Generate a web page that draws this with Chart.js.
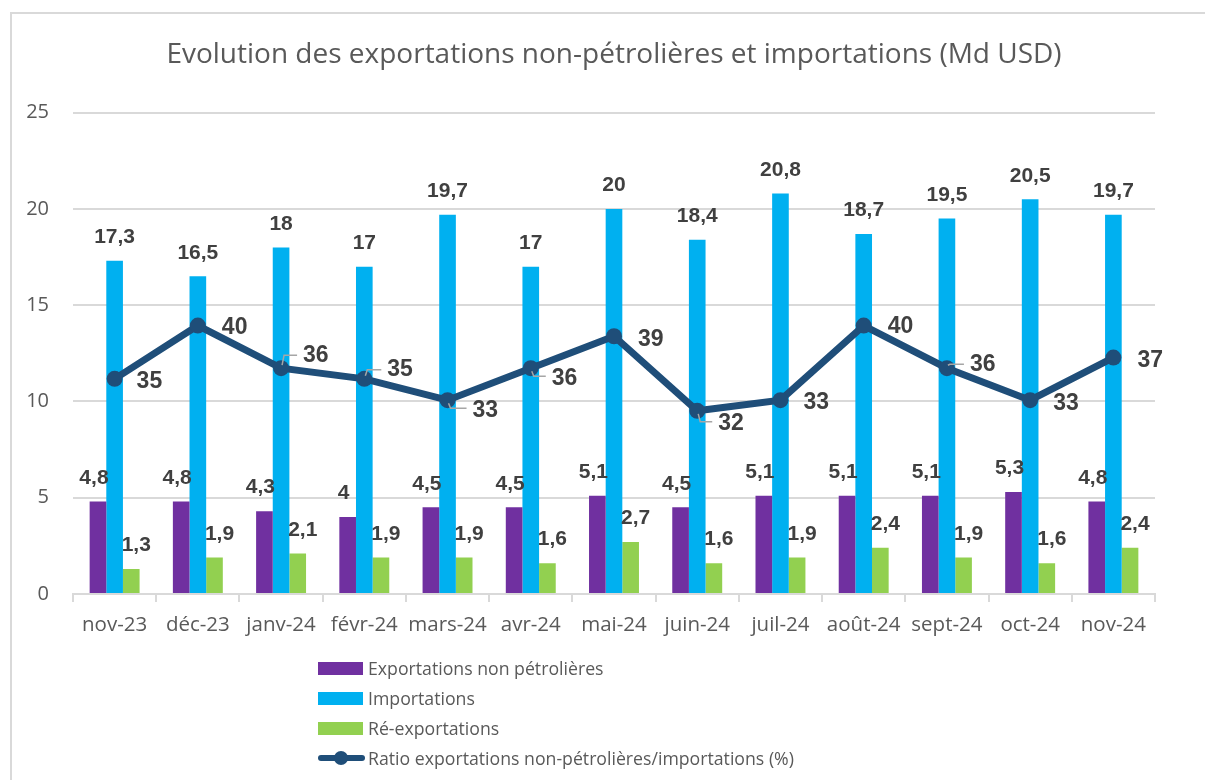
<!DOCTYPE html>
<html lang="fr">
<head>
<meta charset="utf-8">
<script src="https://cdn.jsdelivr.net/npm/chart.js@4/dist/chart.umd.min.js"></script>
<style>
  html, body { margin: 0; padding: 0; background: #ffffff; }
  #wrap { position: relative; width: 1205px; height: 780px; overflow: hidden; }
  #frame { position: absolute; left: 10px; top: 12px; width: 1200px; height: 780px;
           border-left: 2px solid #d9d9d9; border-top: 2px solid #d9d9d9; box-sizing: border-box; }
  #c { position: absolute; left: 0; top: 0; }
  #legend { position: absolute; left: 318px; top: 653px; font-family: "Open Sans", sans-serif;
            font-size: 17.7px; color: #595959; }
  .li { height: 30px; display: flex; align-items: center; }
  .sw { width: 45px; height: 13px; margin-right: 5px; }
  .ln { width: 47px; height: 16px; margin-right: 3px; position: relative; }
  .ln::before { content: ""; position: absolute; left: 0; right: 0; top: 5px; height: 6px;
                background: #1F4E79; border-radius: 3px; }
  .ln::after { content: ""; position: absolute; left: 16px; top: 1px; width: 14px; height: 14px;
               background: #1F4E79; border-radius: 50%; }
</style>
</head>
<body>
<div id="wrap">
  <div id="frame"></div>
  <canvas id="c" width="1205" height="780"></canvas>
  <div id="legend"></div>
</div>
<script>
const categories = ["nov-23","déc-23","janv-24","févr-24","mars-24","avr-24","mai-24","juin-24","juil-24","août-24","sept-24","oct-24","nov-24"];
const exportsNonPetro = [4.8, 4.8, 4.3, 4, 4.5, 4.5, 5.1, 4.5, 5.1, 5.1, 5.1, 5.3, 4.8];
const importations = [17.3, 16.5, 18, 17, 19.7, 17, 20, 18.4, 20.8, 18.7, 19.5, 20.5, 19.7];
const reExportations = [1.3, 1.9, 2.1, 1.9, 1.9, 1.6, 2.7, 1.6, 1.9, 2.4, 1.9, 1.6, 2.4];
const ratioPct = [35, 40, 36, 35, 33, 36, 39, 32, 33, 40, 36, 33, 37];
const yTicks = [0, 5, 10, 15, 20, 25];
const seriesNames = ["Exportations non pétrolières", "Importations", "Ré-exportations",
                     "Ratio exportations non-pétrolières/importations (%)"];
const colors = ["#7030A0", "#00B0F0", "#92D050", "#1F4E79"];

function fmt(v) { return String(v).replace(".", ","); }

// label placement for the ratio line (style only, in pixels)
const lineLabelOffsets = [[22,2],[24,1],[22,-14],[23,-10],[25,9],[21,9],[24,2],[21,12],[23,1],[24,0],[23,-5],[23,2],[24,2]];

const labelPlugin = {
  id: "valueLabels",
  afterDatasetsDraw(chart) {
    const ctx = chart.ctx;
    ctx.save();
    chart.data.datasets.forEach((ds, i) => {
      const meta = chart.getDatasetMeta(i);
      meta.data.forEach((el, j) => {
        const v = ds.data[j];
        if (ds.type === "line") {
          const [dx, dy] = lineLabelOffsets[j];
          if (Math.abs(dy) >= 5) {
            ctx.strokeStyle = "#a6a6a6";
            ctx.lineWidth = 1.5;
            ctx.beginPath();
            const s = dy < 0 ? -1 : 1;
            ctx.moveTo(el.x + 1, el.y + s * 3);
            ctx.lineTo(el.x + 3, el.y + dy - s * 1);
            ctx.lineTo(el.x + dx - 6, el.y + dy - s * 1);
            ctx.stroke();
          }
          ctx.fillStyle = "#404040";
          ctx.font = "bold 23px 'Liberation Sans', Arial, sans-serif";
          ctx.textAlign = "left";
          ctx.textBaseline = "middle";
          ctx.fillText(fmt(v), el.x + dx, el.y + dy + 1);
        } else {
          ctx.fillStyle = "#404040";
          ctx.font = "bold 21px 'Liberation Sans', Arial, sans-serif";
          ctx.textAlign = "center";
          ctx.textBaseline = "bottom";
          const dx = ds.labelDx || 0;
          ctx.fillText(fmt(v), el.x + dx, el.y - 13);
        }
      });
    });
    ctx.restore();
  }
};

const chart = new Chart(document.getElementById("c"), {
  data: {
    labels: categories,
    datasets: [
      { type: "line", label: seriesNames[3], data: ratioPct, yAxisID: "y2",
        borderColor: colors[3], backgroundColor: colors[3], borderWidth: 7,
        pointRadius: 8, pointHoverRadius: 8, pointBackgroundColor: colors[3],
        pointBorderWidth: 0, tension: 0, order: 0 },
      { type: "bar", label: seriesNames[0], data: exportsNonPetro, backgroundColor: colors[0],
        categoryPercentage: 0.6, barPercentage: 1.0, order: 1, labelDx: -4 },
      { type: "bar", label: seriesNames[1], data: importations, backgroundColor: colors[1],
        categoryPercentage: 0.6, barPercentage: 1.0, order: 1, labelDx: 0 },
      { type: "bar", label: seriesNames[2], data: reExportations, backgroundColor: colors[2],
        categoryPercentage: 0.6, barPercentage: 1.0, order: 1, labelDx: 5 }
    ]
  },
  options: {
    responsive: false,
    animation: false,
    layout: { padding: { left: 0, right: 50, top: 0, bottom: 136 } },
    plugins: {
      legend: { display: false },
      tooltip: { enabled: false },
      title: {
        display: true, fullSize: false,
        text: "Evolution des exportations non-pétrolières et importations (Md USD)",
        color: "#595959",
        font: { family: "'Open Sans', sans-serif", size: 28, weight: "normal", lineHeight: 1.2 },
        padding: { top: 38, bottom: 41 }
      }
    },
    scales: {
      x: {
        offset: true,
        grid: { offset: true, drawOnChartArea: false, drawTicks: true, tickLength: 8, color: "#d9d9d9", lineWidth: 2 },
        border: { display: true, color: "#d9d9d9", width: 2 },
        ticks: { color: "#595959", padding: 11, maxRotation: 0,
                 font: { family: "'Open Sans', sans-serif", size: 20.5 } },
        afterFit(s) { s.height = 50; }
      },
      y: {
        min: 0, max: 25,
        afterBuildTicks(s) { s.ticks = yTicks.map(v => ({ value: v })); },
        grid: { color: "#d9d9d9", lineWidth: 2, drawTicks: false },
        border: { display: false },
        ticks: { color: "#595959", padding: 24,
                 font: { family: "'Open Sans', sans-serif", size: 20 } },
        afterFit(s) { s.width = 73; }
      },
      y2: {
        display: false, min: 14.8, max: 60
      }
    }
  },
  plugins: [labelPlugin]
});

const lg = document.getElementById("legend");
[0, 1, 2, 3].forEach(i => {
  const row = document.createElement("div");
  row.className = "li";
  const sw = document.createElement("span");
  if (i < 3) { sw.className = "sw"; sw.style.background = colors[i]; }
  else { sw.className = "ln"; }
  const t = document.createElement("span");
  t.textContent = seriesNames[i];
  row.appendChild(sw); row.appendChild(t);
  lg.appendChild(row);
});
</script>
</body>
</html>
